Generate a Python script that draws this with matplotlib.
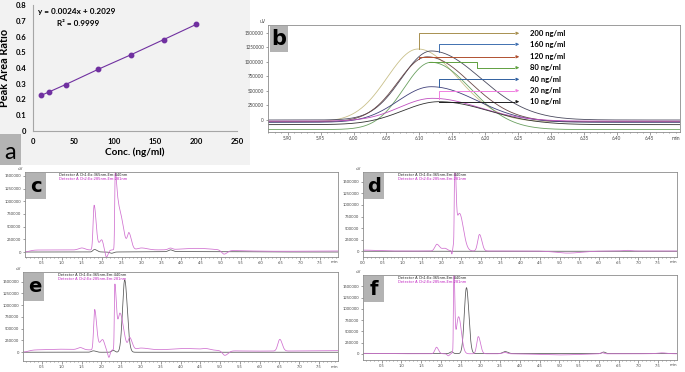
import numpy as np
import matplotlib
matplotlib.use("Agg")
import matplotlib.pyplot as plt
from matplotlib.patches import Rectangle
from matplotlib.ticker import MultipleLocator, FuncFormatter

plt.rcParams['font.family'] = ['Lato', 'DejaVu Sans']

# ---- panel a: calibration ----
conc = [10, 20, 40, 80, 120, 160, 200]
area_ratio = [0.226, 0.249, 0.295, 0.392, 0.484, 0.580, 0.677]

# ---- panel b: overlaid peaks (center, height, sigma_left, sigma_right), baseline ----
b_labels = ["200 ng/ml", "160 ng/ml", "120 ng/ml", "80 ng/ml", "40 ng/ml", "20 ng/ml", "10 ng/ml"]
b_base = [-30000, 0, -30000, -165000, -40000, -20000, -80000]
b_peaks = [
    (6.098, 1254000, 0.047, 0.060),
    (6.118, 1190000, 0.045, 0.075),
    (6.112, 1120000, 0.045, 0.065),
    (6.118, 1160000, 0.042, 0.060),
    (6.118, 614000, 0.050, 0.070),
    (6.120, 394000, 0.050, 0.070),
    (6.130, 396000, 0.055, 0.075),
]
b_line_colors = ["#c9c08a", "#4a4a5e", "#6a4848", "#6aa060", "#40407a", "#c050c0", "#303030"]
b_arrow_colors = ["#a89050", "#4070b0", "#b05030", "#60a040", "#3060a0", "#f080e0", "#202020"]

# ---- panels c-f: chromatogram peak tables ----
# each trace: baseline, [(center, height, sigma_left, sigma_right), ...]
c_mag_base = 40000
c_mag = [(0.05, -40000, 0.1, 0.12), (1.5, 40000, 0.08, 0.08), (1.81, 880000, 0.025, 0.05),
         (2.0, 200000, 0.06, 0.04), (2.12, -140000, 0.03, 0.04), (2.34, 1400000, 0.012, 0.035),
         (2.42, 850000, 0.04, 0.11), (2.69, 300000, 0.04, 0.06), (3.0, 40000, 0.1, 0.15),
         (3.73, 30000, 0.05, 0.05), (4.4, 35000, 0.4, 0.4), (5.08, -80000, 0.06, 0.08),
         (6.5, -25000, 1.0, 2.0)]
c_blk_base = 0
c_blk = [(1.82, 50000, 0.04, 0.06), (2.25, -25000, 0.05, 0.05), (3.73, 35000, 0.05, 0.06),
         (4.5, 10000, 1.0, 1.0)]

d_mag_base = 0
d_mag = [(0.0, 20000, 0.2, 0.3), (1.875, 140000, 0.05, 0.06), (2.08, 60000, 0.1, 0.06),
         (2.26, -110000, 0.015, 0.015), (2.33, 1900000, 0.01, 0.03), (2.45, 820000, 0.08, 0.1),
         (2.96, 360000, 0.045, 0.06), (5.2, -45000, 0.3, 0.35), (6.7, 15000, 0.1, 0.1)]
d_blk_base = -5000
d_blk = []

e_mag_base = 45000
e_mag = [(0.03, -45000, 0.1, 0.12), (1.0, 15000, 0.3, 0.3), (1.47, 45000, 0.07, 0.07),
         (1.83, 860000, 0.025, 0.05), (2.03, 220000, 0.07, 0.05), (2.19, -160000, 0.03, 0.03),
         (2.34, 1380000, 0.012, 0.04), (2.47, 780000, 0.05, 0.09), (2.72, 250000, 0.04, 0.06),
         (3.0, 40000, 0.1, 0.2), (4.1, 35000, 0.3, 0.4), (4.65, 25000, 0.1, 0.1),
         (5.12, -100000, 0.06, 0.08), (6.51, 250000, 0.05, 0.06), (6.0, -25000, 1.0, 2.0)]
e_blk_base = -5000
e_blk = [(1.8, 30000, 0.05, 0.06), (2.3, 40000, 0.04, 0.04), (2.59, 1545000, 0.055, 0.065)]

f_mag_base = 5000
f_mag = [(0.0, 10000, 0.3, 0.5), (1.89, 145000, 0.04, 0.05), (2.19, -45000, 0.03, 0.03),
         (2.33, 1900000, 0.01, 0.022), (2.45, 820000, 0.06, 0.07), (2.95, 380000, 0.04, 0.055),
         (3.62, 30000, 0.06, 0.06), (5.0, -25000, 0.5, 0.5), (6.08, 25000, 0.04, 0.05),
         (7.6, 20000, 0.12, 0.12)]
f_blk_base = 8000
f_blk = [(2.27, 40000, 0.04, 0.04), (2.65, 1460000, 0.055, 0.06), (3.63, 45000, 0.06, 0.07),
         (6.12, 35000, 0.04, 0.05)]


def render(t, base, peaks):
    y = np.full_like(t, float(base))
    for c, h, sl, sr in peaks:
        s = np.where(t < c, sl, sr)
        y += h * np.exp(-0.5 * ((t - c) / s) ** 2)
    return y


def panel_box(ax, letter, w, h, fs):
    ax.add_patch(Rectangle((0.004, 1 - h - 0.012), w, h, transform=ax.transAxes,
                           facecolor="#b3b3b3", edgecolor="none", zorder=5))
    ax.text(0.004 + w / 2, 1 - h / 2 - 0.012, letter, transform=ax.transAxes, ha="center",
            va="center", fontsize=fs, fontweight="bold", family="DejaVu Sans", zorder=6)


def chrom_style(ax, xlim, ylim, ystep, xstep, fs=3.0):
    ax.set_xlim(*xlim)
    ax.set_ylim(*ylim)
    for s in ax.spines.values():
        s.set_color("#8c8c8c")
        s.set_linewidth(0.6)
    ax.yaxis.set_major_locator(MultipleLocator(ystep))
    ax.xaxis.set_major_locator(MultipleLocator(xstep))
    ax.xaxis.set_minor_locator(MultipleLocator(xstep / 5))
    ax.tick_params(which="both", direction="out", width=0.4, colors="#555555", labelsize=fs,
                   labelcolor="#444444", pad=1)
    ax.tick_params(which="major", length=1.8)
    ax.tick_params(which="minor", length=1.0)
    ax.yaxis.set_major_formatter(FuncFormatter(lambda v, p: "%d" % v))
    ax.text(-0.005, 1.01, "uV", transform=ax.transAxes, fontsize=fs, color="#444444",
            ha="right", va="bottom", family="DejaVu Sans")
    ax.text(1.0, -0.04, "min", transform=ax.transAxes, fontsize=fs, color="#444444",
            ha="right", va="top", family="DejaVu Sans")


fig = plt.figure(figsize=(6.85, 3.72), dpi=100)
W, H = 685.0, 372.0


def px_axes(x0, y0, x1, y1):
    return fig.add_axes([x0 / W, 1 - y1 / H, (x1 - x0) / W, (y1 - y0) / H])


# panel a background
fig.patches.append(Rectangle((0, 1 - 165 / H), 250 / W, 165 / H, transform=fig.transFigure,
                             facecolor="#f2f2f2", edgecolor="none", zorder=-2))
fig.patches.append(Rectangle((0, 1 - 165 / H), 21 / W, 31 / H, transform=fig.transFigure,
                             facecolor="#b3b3b3", edgecolor="none", zorder=-1))
fig.text(10.5 / W, 1 - 152 / H, "a", fontsize=17, ha="center", va="center", zorder=2)

ax_a = px_axes(33, 5, 237, 131)
ax_a.set_facecolor("none")
ax_a.plot(conc, area_ratio, color="#7030a0", lw=0.8, marker="o", ms=3.2, mfc="#7030a0", mec="#7030a0")
ax_a.set_xlim(0, 250)
ax_a.set_ylim(0, 0.8)
ax_a.xaxis.set_major_locator(MultipleLocator(50))
ax_a.yaxis.set_major_locator(MultipleLocator(0.1))
ax_a.yaxis.set_major_formatter(FuncFormatter(lambda v, p: "0" if abs(v) < 1e-9 else "%.1f" % v))
for s in ["top", "right"]:
    ax_a.spines[s].set_visible(False)
for s in ["left", "bottom"]:
    ax_a.spines[s].set_color("#a6a6a6")
    ax_a.spines[s].set_linewidth(0.8)
ax_a.tick_params(length=0, labelsize=5.5, pad=5)
for lab in ax_a.get_xticklabels() + ax_a.get_yticklabels():
    lab.set_fontweight("bold")
ax_a.set_ylabel("Peak Area Ratio", fontsize=7.8, fontweight="bold", labelpad=4)
ax_a.set_xlabel("Conc. (ng/ml)", fontsize=7.2, fontweight="bold", labelpad=2)
ax_a.text(6, 0.757, "y = 0.0024x + 0.2029", fontsize=5.9, fontweight="bold", va="center")
ax_a.text(29, 0.684, "R² = 0.9999", fontsize=5.9, fontweight="bold", va="center")

# panel b
ax_b = px_axes(268, 25, 680, 132)
tb = np.linspace(5.87, 6.5, 800)
for base, pk, col in zip(b_base, b_peaks, b_line_colors):
    ax_b.plot(tb, render(tb, base, [pk]), color=col, lw=0.6)
chrom_style(ax_b, (5.87, 6.496), (-206900, 1637900), 250000, 0.05, fs=3.3)
ax_b.xaxis.set_major_formatter(FuncFormatter(lambda v, p: "%.2f" % v))
ax_b.xaxis.set_minor_locator(MultipleLocator(0.01))
panel_box(ax_b, "b", 0.045, 0.24, 15)

label_y = [1495000, 1305000, 1090000, 902000, 701000, 506000, 316000]
anchor_x = [6.10, 6.13, 6.10, 6.115, 6.13, 6.13, 6.13]
x_end = 6.256
for i, (ly, ax0) in enumerate(zip(label_y, anchor_x)):
    col = b_arrow_colors[i]
    y0 = render(np.array([ax0]), b_base[i], [b_peaks[i]])[0]
    if i == 3:
        xs = [ax0, 6.187, 6.187, x_end - 0.012]
        ys = [y0, y0, ly, ly]
    else:
        xs = [ax0, ax0, x_end - 0.012]
        ys = [y0, ly, ly]
    ax_b.plot(xs, ys, color=col, lw=0.7, zorder=4)
    ax_b.annotate("", xy=(x_end, ly), xytext=(x_end - 0.013, ly),
                  arrowprops=dict(arrowstyle="-|>", color=col, lw=0.7, mutation_scale=4), zorder=4)
    ax_b.text(6.268, ly, b_labels[i], fontsize=5.5, fontweight="bold", va="center", ha="left")

# panels c-f
tc = np.linspace(0, 8, 3000)
panels = [
    ("c", (25, 172, 338, 257), (0.07, 7.95), (-98000, 1575000), c_mag_base, c_mag, c_blk_base, c_blk),
    ("d", (363, 172, 677, 257), (0.0, 7.98), (-130000, 1717000), d_mag_base, d_mag, d_blk_base, d_blk),
    ("e", (23, 272, 338, 361), (0.02, 7.98), (-192000, 1709000), e_mag_base, e_mag, e_blk_base, e_blk),
    ("f", (363, 275, 677, 360), (0.03, 7.98), (-133000, 1748000), f_mag_base, f_mag, f_blk_base, f_blk),
]
for letter, box, xl, yl, mb, mp, kb, kp in panels:
    ax = px_axes(*box)
    ax.plot(tc, render(tc, kb, kp), color="#555555", lw=0.55)
    ax.plot(tc, render(tc, mb, mp), color="#d070d0", lw=0.55)
    chrom_style(ax, xl, yl, 250000, 0.5, fs=2.9)
    panel_box(ax, letter, 0.064, 0.31, 14)
    ax.text(0.11, 0.985, "Detector A Ch1:Ex:365nm,Em:440nm", transform=ax.transAxes,
            fontsize=2.6, color="#222222", va="top", family="DejaVu Sans")
    ax.text(0.11, 0.945, "Detector A Ch2:Ex:285nm,Em:281nm", transform=ax.transAxes,
            fontsize=2.6, color="#c020c0", va="top", family="DejaVu Sans")

fig.savefig("out.png", dpi=100)
